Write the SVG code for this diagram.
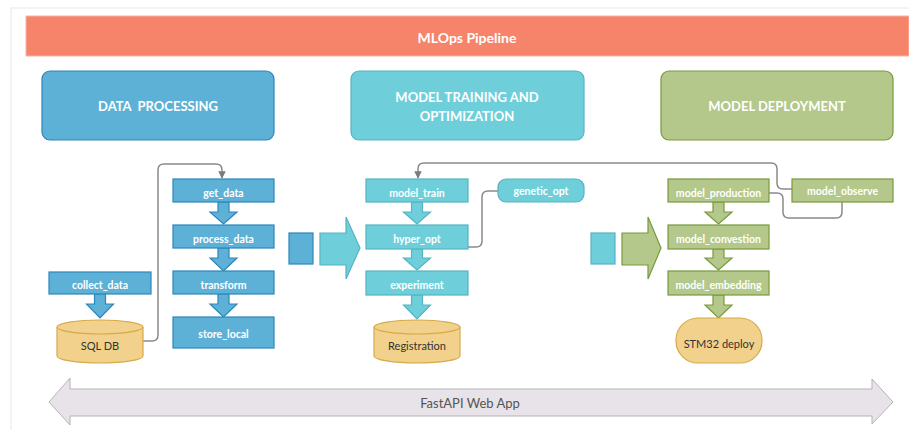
<svg xmlns="http://www.w3.org/2000/svg" width="909" height="430" viewBox="0 0 909 430">
<defs>
<style>
text{font-family:Lato,"Open Sans","Liberation Sans",sans-serif;text-anchor:middle;dominant-baseline:central}
.hdr{font-size:13px;font-weight:bold;fill:#fff}
.lbl{font-size:10.5px;font-weight:bold;fill:#fff}
.dark{font-size:11px;fill:#333}
.blue{fill:#5EB1D6;stroke:#2C86B9;stroke-width:1.2}
.cyan{fill:#6ECFDB;stroke:#56B3C1;stroke-width:1.2}
.green{fill:#B3C88A;stroke:#789A3C;stroke-width:1.2}
.db{fill:#F1D18B;stroke:#D6A94A;stroke-width:1.2}
.conn{fill:none;stroke:#8A8A8A;stroke-width:1.5}
</style>
<marker id="ah" viewBox="0 0 10 10" refX="9" refY="5" markerWidth="5" markerHeight="5" orient="auto">
<path d="M0,0 L10,5 L0,10 z" fill="#7A7A7A"/>
</marker>
</defs>
<rect width="909" height="430" fill="#fff"/>
<path d="M11,430 V8 H909" fill="none" stroke="#EFEFEF" stroke-width="1.5"/>
<g id="title">
<rect x="26" y="16" width="883" height="40" fill="#F5846B" stroke="#F9B4A4" stroke-width="1"/>
<text x="467" y="37" font-size="14" font-weight="bold" fill="#fff">MLOps Pipeline</text>
</g>
<g id="hdr-data"><rect class="blue" x="42" y="71" width="232" height="69" rx="8"/><text class="hdr" x="158" y="106" xml:space="preserve">DATA  PROCESSING</text></g>
<g id="hdr-train"><rect class="cyan" x="351" y="71" width="233" height="69" rx="8"/><text class="hdr" x="467" y="97">MODEL TRAINING AND</text><text class="hdr" x="467" y="116">OPTIMIZATION</text></g>
<g id="hdr-deploy"><rect class="green" x="661" y="71" width="232" height="69" rx="8"/><text class="hdr" x="777" y="106">MODEL DEPLOYMENT</text></g>

<g id="connectors">
<path class="conn" d="M143,341 H152 Q158,341 158,335 V170 Q158,164 164,164 H216 Q222,164 222,170 V178" marker-end="url(#ah)"/>
<path class="conn" d="M792,189 H783 Q777,189 777,183 V169 Q777,163 771,163 H424 Q418,163 418,169 V178" marker-end="url(#ah)"/>
<path class="conn" d="M468,247 H476 Q482,247 482,241 V197 Q482,191 488,191 H498"/>
<path class="conn" d="M769,193 H777 Q783,193 783,199 V212 Q783,218 789,218 H836 Q842,218 842,212 V202"/>
<!-- block arrows -->
<path class="blue" d="M218,202 h11 v10 h8 l-13.5,12 l-13.5,-12 h8 z"/>
<path class="blue" d="M218,248 h11 v10 h8 l-13.5,13 l-13.5,-13 h8 z"/>
<path class="blue" d="M218,294 h11 v10 h8 l-13.5,13 l-13.5,-13 h8 z"/>
<path class="blue" d="M94.5,294 h11 v10 h8 l-13.5,14 l-13.5,-14 h8 z"/>
<path class="cyan" d="M411.5,202 h11 v10 h8 l-13.5,12 l-13.5,-12 h8 z"/>
<path class="cyan" d="M411.5,249 h11 v9 h8 l-13.5,12 l-13.5,-12 h8 z"/>
<path class="cyan" d="M411.5,295 h11 v10 h8 l-13.5,14 l-13.5,-14 h8 z"/>
<path class="green" d="M713,202 h11 v10 h8 l-13.5,12 l-13.5,-12 h8 z"/>
<path class="green" d="M713,249 h11 v9 h8 l-13.5,12 l-13.5,-12 h8 z"/>
<path class="green" d="M713,295 h11 v10 h8 l-13.5,13 l-13.5,-13 h8 z"/>
<!-- stage arrows -->
<rect class="blue" x="289" y="233" width="24" height="31"/>
<path class="cyan" d="M320,233 H346 V217 L360,248 L346,279 V265 H320 z"/>
<rect class="cyan" x="591" y="233" width="24" height="31"/>
<path class="green" d="M622,233 H648 V217 L661,248 L648,279 V265 H622 z"/>
</g>

<g id="collect_data"><rect class="blue" x="49" y="272" width="102" height="22"/><text class="lbl" x="100" y="285">collect_data</text></g>
<g id="sql_db"><path class="db" d="M57,327 a43,7 0 0,1 86,0 v29 a43,7 0 0,1 -86,0 z"/><path class="db" d="M57,327 a43,7 0 0,0 86,0" fill="none"/><text class="dark" x="100" y="345">SQL DB</text></g>
<g id="get_data"><rect class="blue" x="173" y="179" width="101" height="23"/><text class="lbl" x="223.5" y="193">get_data</text></g>
<g id="process_data"><rect class="blue" x="173" y="225" width="101" height="23"/><text class="lbl" x="223.5" y="239">process_data</text></g>
<g id="transform"><rect class="blue" x="173" y="271" width="101" height="23"/><text class="lbl" x="223.5" y="285">transform</text></g>
<g id="store_local"><rect class="blue" x="173" y="317" width="101" height="31"/><text class="lbl" x="223.5" y="334">store_local</text></g>

<g id="model_train"><rect class="cyan" x="366" y="179" width="102" height="23"/><text class="lbl" x="417" y="193">model_train</text></g>
<g id="hyper_opt"><rect class="cyan" x="366" y="225" width="102" height="24"/><text class="lbl" x="417" y="239">hyper_opt</text></g>
<g id="experiment"><rect class="cyan" x="366" y="271" width="102" height="24"/><text class="lbl" x="417" y="285">experiment</text></g>
<g id="genetic_opt"><rect class="cyan" x="498" y="179" width="86" height="23" rx="8"/><text class="lbl" x="541" y="191">genetic_opt</text></g>
<g id="registration"><path class="db" d="M374,327 a43,7 0 0,1 86,0 v29 a43,7 0 0,1 -86,0 z"/><path class="db" d="M374,327 a43,7 0 0,0 86,0" fill="none"/><text class="dark" x="417" y="345">Registration</text></g>

<g id="model_production"><rect class="green" x="668" y="179" width="101" height="23"/><text class="lbl" x="718.5" y="193">model_production</text></g>
<g id="model_observe"><rect class="green" x="792" y="179" width="101" height="23"/><text class="lbl" x="842.5" y="191">model_observe</text></g>
<g id="model_convestion"><rect class="green" x="668" y="225" width="101" height="24"/><text class="lbl" x="718.5" y="239">model_convestion</text></g>
<g id="model_embedding"><rect class="green" x="668" y="271" width="101" height="24"/><text class="lbl" x="718.5" y="285">model_embedding</text></g>
<g id="stm32"><rect class="db" x="676" y="318" width="86" height="45" rx="22"/><text class="dark" x="719" y="343">STM32 deploy</text></g>

<g id="fastapi">
<path d="M49,402 L70,378 V389 H872 V379 L893,402 L872,424 V416 H70 V425 z" fill="#E8E3E8" stroke="#B5B3B5" stroke-width="1"/>
<text x="470" y="403" font-size="13" fill="#555">FastAPI Web App</text>
</g>
</svg>
